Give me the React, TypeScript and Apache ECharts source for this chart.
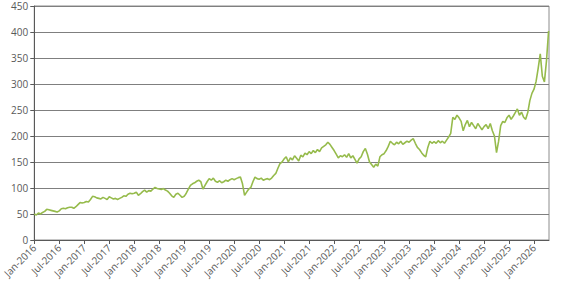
import React, { useEffect, useRef } from "react";
import * as echarts from "echarts";

// Semi-monthly index values (24 per year)
const v2016 = [50, 48, 52, 50, 53, 55, 59, 58, 57, 56, 55, 54, 56, 60, 61, 60, 62, 63, 63, 61, 64, 68, 72, 71];
const v2017 = [72, 74, 73, 78, 84, 83, 81, 80, 79, 82, 80, 78, 83, 81, 79, 80, 78, 80, 82, 85, 84, 88, 90, 89];
const v2018 = [90, 92, 86, 89, 93, 96, 92, 95, 94, 98, 101, 99, 98, 97, 99, 96, 94, 90, 85, 82, 88, 90, 86, 82];
const v2019 = [84, 90, 98, 105, 108, 110, 113, 115, 112, 98, 105, 112, 118, 115, 119, 113, 111, 114, 110, 112, 115, 113, 116, 118];
const v2020 = [116, 118, 120, 121, 108, 86, 92, 98, 101, 112, 121, 118, 117, 119, 115, 117, 118, 116, 119, 124, 128, 138, 147, 150];
const v2021 = [156, 160, 150, 158, 154, 162, 157, 152, 163, 160, 167, 164, 170, 166, 172, 168, 174, 170, 177, 180, 183, 188, 184, 178];
const v2022 = [172, 165, 158, 162, 160, 164, 159, 166, 158, 162, 155, 148, 156, 160, 170, 176, 165, 150, 145, 140, 146, 142, 160, 164];
const v2023 = [166, 172, 180, 190, 186, 183, 188, 185, 190, 184, 187, 190, 188, 192, 195, 186, 178, 174, 168, 163, 160, 178, 190, 186];
const v2024 = [189, 186, 191, 187, 190, 186, 192, 198, 205, 236, 232, 240, 235, 228, 210, 222, 230, 218, 226, 220, 214, 224, 218, 212];
const v2025 = [218, 222, 214, 224, 210, 200, 168, 190, 220, 228, 226, 235, 240, 232, 238, 245, 252, 240, 246, 236, 232, 245, 268, 282];
const v2026 = [290, 305, 330, 358, 315, 304, 345, 402];

const startYear = 2016;
const stepsPerYear = 24;
const values = [...v2016, ...v2017, ...v2018, ...v2019, ...v2020, ...v2021, ...v2022, ...v2023, ...v2024, ...v2025, ...v2026];
const monthLabels = ["Jan", "Jul"];

export default function App() {
  const ref = useRef<HTMLDivElement>(null);
  useEffect(() => {
    if (!ref.current) return;
    const chart = echarts.init(ref.current, null, { renderer: "svg" });
    const data = values.map((v, i) => [startYear + i / stepsPerYear, v]);
    const labelStyle = { color: "#595959", fontSize: 10, fontFamily: "Open Sans" };
    chart.setOption({
      animation: false,
      grid: {
        left: 34,
        right: 16,
        top: 6,
        bottom: 47,
        show: true,
        borderColor: "#8c8c8c",
        borderWidth: 1,
      },
      xAxis: {
        type: "value",
        min: 2016,
        max: 2026.3,
        interval: 0.5,
        axisLine: { show: true, onZero: false, lineStyle: { color: "#595959", width: 1 } },
        axisTick: { show: true, length: 4, lineStyle: { color: "#595959" } },
        splitLine: { show: false },
        axisLabel: {
          ...labelStyle,
          rotate: 45,
          margin: 6,
          showMaxLabel: false,
          formatter: (v: number) => {
            const y = Math.floor(v + 1e-6);
            const m = v - y < 0.25 ? monthLabels[0] : monthLabels[1];
            return `${m}-${y}`;
          },
        },
      },
      yAxis: {
        type: "value",
        min: 0,
        max: 450,
        interval: 50,
        axisLine: { show: true, lineStyle: { color: "#595959", width: 1 } },
        axisTick: { show: true, length: 4, lineStyle: { color: "#595959" } },
        splitLine: { show: true, lineStyle: { color: "#7f7f7f", width: 1 } },
        axisLabel: { ...labelStyle, margin: 6 },
      },
      series: [
        {
          type: "line",
          data,
          showSymbol: false,
          symbol: "none",
          lineStyle: { color: "#96bb4c", width: 1.6 },
        },
      ],
    });
    return () => chart.dispose();
  }, []);
  return (
    <div
      ref={ref}
      style={{ position: "absolute", left: 0, top: 0, width: 565, height: 287, background: "#fff" }}
    />
  );
}
